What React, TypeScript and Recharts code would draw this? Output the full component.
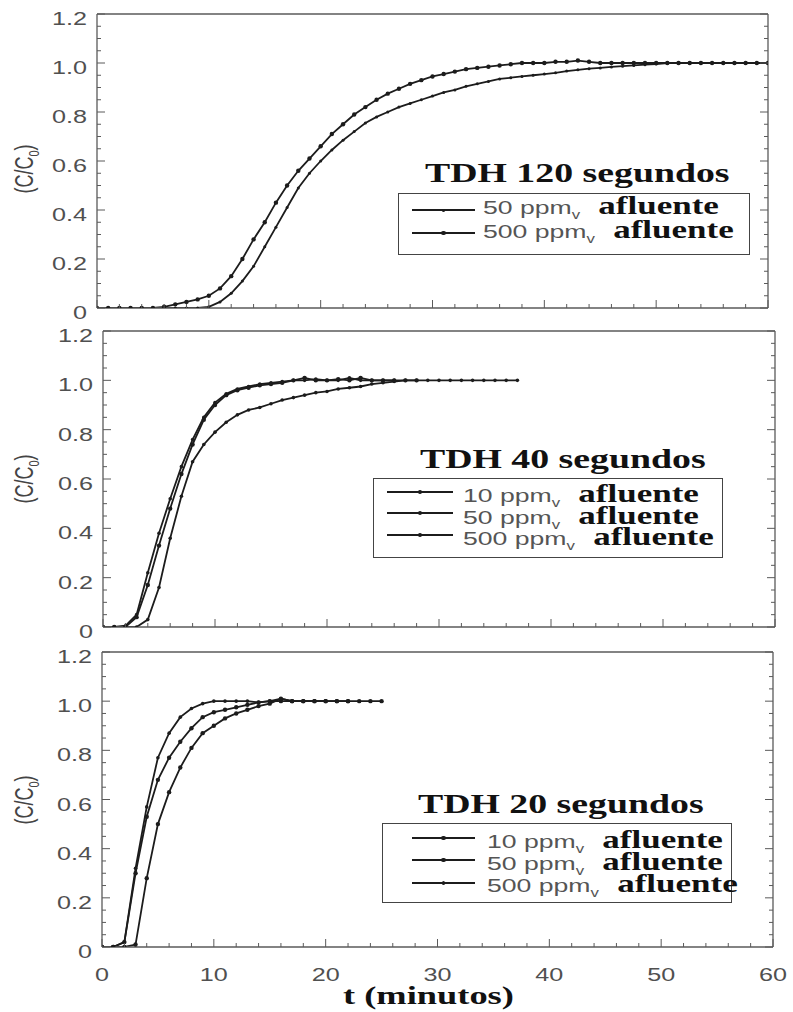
import React from 'react';
import { LineChart, Line, XAxis, YAxis } from 'recharts';

// one reading per minute
const MINUTES = [
  0, 1, 2, 3, 4, 5, 6, 7, 8, 9, 10, 11, 12, 13, 14, 15, 16, 17, 18, 19, 20,
  21, 22, 23, 24, 25, 26, 27, 28, 29, 30, 31, 32, 33, 34, 35, 36, 37, 38, 39, 40,
  41, 42, 43, 44, 45, 46, 47, 48, 49, 50, 51, 52, 53, 54, 55, 56, 57, 58, 59, 60,
];

// TDH 120 s
const P1_500 = [
  0, 0, 0, 0, 0, 0, 0.005, 0.015, 0.025, 0.035, 0.05, 0.08, 0.13, 0.2, 0.28, 0.35,
  0.43, 0.5, 0.56, 0.61, 0.66, 0.71, 0.75, 0.79, 0.82, 0.85, 0.875, 0.895, 0.915,
  0.93, 0.945, 0.955, 0.965, 0.975, 0.98, 0.985, 0.99, 0.995, 1.0, 1.0, 1.0, 1.005,
  1.005, 1.01, 1.005, 1.0, 1, 1, 1, 1, 1, 1, 1, 1, 1, 1, 1, 1, 1, 1, 1,
];
const P1_50 = [
  0, 0, 0, 0, 0, 0, 0, 0, 0, 0, 0.005, 0.025, 0.06, 0.11, 0.17, 0.25, 0.33, 0.41,
  0.49, 0.55, 0.6, 0.645, 0.685, 0.72, 0.755, 0.78, 0.8, 0.82, 0.835, 0.85, 0.865,
  0.88, 0.89, 0.905, 0.915, 0.925, 0.935, 0.94, 0.945, 0.95, 0.955, 0.96, 0.967,
  0.972, 0.977, 0.98, 0.984, 0.987, 0.99, 0.993, 0.996, 1, 1, 1, 1, 1, 1, 1, 1, 1, 1,
];

// TDH 40 s
const P2_500 = [
  0, 0, 0.005, 0.05, 0.22, 0.38, 0.52, 0.65, 0.76, 0.85, 0.91, 0.945, 0.965, 0.975,
  0.985, 0.99, 0.995, 1.0, 1.0, 1.005, 1.0, 1.0, 1.01, 1.0, 1.0, 1.0, 1.0,
];
const P2_50 = [
  0, 0, 0, 0.04, 0.17, 0.33, 0.48, 0.62, 0.74, 0.84, 0.9, 0.94, 0.96, 0.97, 0.98,
  0.985, 0.99, 1.0, 1.01, 1.0, 1.0, 1.005, 1.0, 1.01, 1.0, 1.0, 1.0, 1.0, 1.0,
];
const P2_10 = [
  0, 0, 0, 0, 0.03, 0.16, 0.36, 0.53, 0.67, 0.74, 0.79, 0.83, 0.86, 0.88, 0.89,
  0.905, 0.92, 0.93, 0.94, 0.95, 0.955, 0.965, 0.97, 0.975, 0.985, 0.99, 0.995,
  1, 1, 1, 1, 1, 1, 1, 1, 1, 1, 1,
];

// TDH 20 s
const P3_500 = [
  0, 0, 0.02, 0.32, 0.57, 0.77, 0.87, 0.935, 0.97, 0.99, 1.0, 1.0, 1.0, 1.0, 0.995,
  1.0, 1.01, 1.0, 1.0, 1.0, 1.0,
];
const P3_50 = [
  0, 0, 0.02, 0.3, 0.53, 0.68, 0.77, 0.835, 0.89, 0.935, 0.955, 0.965, 0.975, 0.985,
  0.995, 1.0, 1.0, 1.0, 1.0, 1.0, 1.0, 1.0, 1.0,
];
const P3_10 = [
  0, 0, 0, 0.01, 0.28, 0.5, 0.63, 0.73, 0.81, 0.87, 0.9, 0.93, 0.95, 0.965, 0.98,
  0.99, 1.01, 1.0, 1.0, 1.0, 1.0, 1.0, 1.0, 1.0, 1.0, 1.0,
];

// major + minor tick positions
const X_TICKS = [
  0, 2, 4, 6, 8, 10, 12, 14, 16, 18, 20, 22, 24, 26, 28, 30, 32, 34, 36, 38, 40,
  42, 44, 46, 48, 50, 52, 54, 56, 58, 60,
];
const Y_TICKS = [
  0, 0.05, 0.1, 0.15, 0.2, 0.25, 0.3, 0.35, 0.4, 0.45, 0.5, 0.55, 0.6, 0.65, 0.7,
  0.75, 0.8, 0.85, 0.9, 0.95, 1.0, 1.05, 1.1, 1.15, 1.2,
];

const INK = '#1c1c1c';
const FRAME = '#5a5a5a';
const LABEL = '#505050';
const STRETCH = 1.4;

const isMajorX = (v: number) => Math.abs(v / 10 - Math.round(v / 10)) < 1e-6;
const isMajorY = (v: number) => Math.abs(v * 5 - Math.round(v * 5)) < 1e-6;
const yText = (v: number) => (v === 0 ? '0' : v.toFixed(1));

const BottomTick = (props: any) => {
  const { x, y, payload, showLabel } = props;
  const major = isMajorX(payload.value);
  return (
    <g>
      <line x1={x} y1={y} x2={x} y2={y - (major ? 8 : 4)} stroke={FRAME} strokeWidth={1} />
      {showLabel && major && (
        <text
          transform={`translate(${x},${y + 34}) scale(${STRETCH},1)`}
          textAnchor="middle"
          fontFamily="Liberation Sans, Arial, sans-serif"
          fontSize={18}
          fill={LABEL}
        >
          {payload.value}
        </text>
      )}
    </g>
  );
};

const TopTick = (props: any) => {
  const { x, y, payload } = props;
  const major = isMajorX(payload.value);
  return <line x1={x} y1={y} x2={x} y2={y + (major ? 8 : 4)} stroke={FRAME} strokeWidth={1} />;
};

const LeftTick = (props: any) => {
  const { x, y, payload } = props;
  const major = isMajorY(payload.value);
  return (
    <g>
      <line x1={x} y1={y} x2={x + (major ? 8 : 4)} y2={y} stroke={FRAME} strokeWidth={1} />
      {major && (
        <text
          transform={`translate(${x - 10},${y + 11}) scale(${STRETCH},1)`}
          textAnchor="end"
          fontFamily="Liberation Sans, Arial, sans-serif"
          fontSize={18}
          fill={LABEL}
        >
          {yText(payload.value)}
        </text>
      )}
    </g>
  );
};

const RightTick = (props: any) => {
  const { x, y, payload } = props;
  const major = isMajorY(payload.value);
  return <line x1={x} y1={y} x2={x - (major ? 8 : 4)} y2={y} stroke={FRAME} strokeWidth={1} />;
};

interface Box { l: number; t: number; r: number; b: number }
interface SeriesDef { name: string; values: number[]; r: number }

const Panel = ({ box, series, showX }: { box: Box; series: SeriesDef[]; showX: boolean }) => {
  const bottomH = showX ? 65 : 14;
  const top = box.t - 14;
  const h = box.b - box.t + 14 + bottomH;
  const frameLine = { stroke: FRAME, strokeWidth: 1.3 };
  return (
    <div style={{ position: 'absolute', left: 0, top }}>
      <LineChart
        width={793}
        height={h}
        margin={{ top: 14, right: 793 - box.r, bottom: 0, left: box.l - 60 }}
      >
        <XAxis
          xAxisId="x"
          dataKey="t"
          type="number"
          domain={[0, 60]}
          allowDataOverflow
          ticks={X_TICKS}
          interval={0}
          tickSize={0}
          tickMargin={0}
          height={bottomH}
          axisLine={frameLine}
          tickLine={false}
          tick={(p: any) => <BottomTick {...p} showLabel={showX} />}
        />
        <XAxis
          xAxisId="xt"
          orientation="top"
          mirror
          type="number"
          domain={[0, 60]}
          allowDataOverflow
          ticks={X_TICKS}
          interval={0}
          tickSize={0}
          tickMargin={0}
          axisLine={frameLine}
          tickLine={false}
          tick={TopTick}
        />
        <YAxis
          yAxisId="y"
          type="number"
          domain={[0, 1.2]}
          allowDataOverflow
          ticks={Y_TICKS}
          interval={0}
          width={60}
          tickSize={0}
          tickMargin={0}
          axisLine={frameLine}
          tickLine={false}
          tick={LeftTick}
        />
        <YAxis
          yAxisId="yr"
          orientation="right"
          mirror
          type="number"
          domain={[0, 1.2]}
          allowDataOverflow
          ticks={Y_TICKS}
          interval={0}
          tickSize={0}
          tickMargin={0}
          axisLine={frameLine}
          tickLine={false}
          tick={RightTick}
        />
        {series.map((s) => (
          <Line
            key={s.name}
            name={s.name}
            xAxisId="x"
            yAxisId="y"
            data={s.values.map((v, i) => ({ t: MINUTES[i], v }))}
            dataKey="v"
            type="linear"
            stroke={INK}
            strokeWidth={1.8}
            dot={{ r: s.r, fill: INK, stroke: INK, strokeWidth: 0 }}
            activeDot={false}
            isAnimationActive={false}
          />
        ))}
      </LineChart>
    </div>
  );
};

const serifBold: React.CSSProperties = {
  fontFamily: '"Liberation Serif", "Times New Roman", serif',
  fontWeight: 'bold',
  color: '#111',
};
const sans: React.CSSProperties = {
  fontFamily: '"Liberation Sans", Arial, sans-serif',
  color: '#555',
};

// text whose baseline sits at `base`, stretched horizontally like the scan
const Stretched = ({ x, base, size, style, children }: any) => (
  <div
    style={{
      position: 'absolute',
      left: x,
      top: base - 24,
      height: 30,
      lineHeight: '30px',
      fontSize: size,
      whiteSpace: 'nowrap',
      transform: `scaleX(${STRETCH})`,
      transformOrigin: '0 50%',
      ...style,
    }}
  >
    {children}
  </div>
);

interface LegendRow { label: string; line: number; base: number; r: number }
interface LegendDef {
  title: string; titleX: number; titleBase: number;
  box: Box; lineX: [number, number]; textX: number; rows: LegendRow[];
}

const LegendBlock = ({ d }: { d: LegendDef }) => (
  <>
    <Stretched x={d.titleX} base={d.titleBase} size={27} style={serifBold}>
      {d.title}
    </Stretched>
    <div
      style={{
        position: 'absolute',
        left: d.box.l,
        top: d.box.t,
        width: d.box.r - d.box.l,
        height: d.box.b - d.box.t,
        border: '1.4px solid #444',
        boxSizing: 'border-box',
      }}
    />
    {d.rows.map((row) => (
      <React.Fragment key={row.label}>
        <div
          style={{
            position: 'absolute',
            left: d.lineX[0],
            top: row.line - 0.8,
            width: d.lineX[1] - d.lineX[0],
            height: 1.6,
            background: INK,
          }}
        />
        <div
          style={{
            position: 'absolute',
            left: (d.lineX[0] + d.lineX[1]) / 2 - row.r,
            top: row.line - row.r,
            width: row.r * 2,
            height: row.r * 2,
            borderRadius: '50%',
            background: INK,
          }}
        />
        <Stretched x={d.textX} base={row.base} size={25} style={serifBold}>
          <span style={{ ...sans, fontWeight: 'normal', fontSize: 19 }}>
            {row.label} ppm
            <span style={{ fontSize: 12, verticalAlign: 'sub' }}>v</span>
          </span>
          <span style={{ marginLeft: 13 }}>afluente</span>
        </Stretched>
      </React.Fragment>
    ))}
  </>
);

const BOXES: Box[] = [
  { l: 97, t: 14, r: 768, b: 308 },
  { l: 103, t: 331, r: 775, b: 627 },
  { l: 102, t: 652, r: 773, b: 947 },
];

const SERIES: SeriesDef[][] = [
  [
    { name: '500 ppmv', values: P1_500, r: 2.2 },
    { name: '50 ppmv', values: P1_50, r: 1.5 },
  ],
  [
    { name: '500 ppmv', values: P2_500, r: 1.8 },
    { name: '50 ppmv', values: P2_50, r: 2.2 },
    { name: '10 ppmv', values: P2_10, r: 1.8 },
  ],
  [
    { name: '500 ppmv', values: P3_500, r: 1.8 },
    { name: '50 ppmv', values: P3_50, r: 2.2 },
    { name: '10 ppmv', values: P3_10, r: 2.2 },
  ],
];

const LEGENDS: LegendDef[] = [
  {
    title: 'TDH 120 segundos', titleX: 425, titleBase: 182,
    box: { l: 398, t: 193, r: 750, b: 255 }, lineX: [412, 475], textX: 483,
    rows: [
      { label: '50', line: 210, base: 215, r: 1.5 },
      { label: '500', line: 233, base: 239, r: 2.2 },
    ],
  },
  {
    title: 'TDH 40 segundos', titleX: 420, titleBase: 468,
    box: { l: 373, t: 478, r: 723, b: 558 }, lineX: [387, 453], textX: 463,
    rows: [
      { label: '10', line: 492, base: 503, r: 1.8 },
      { label: '50', line: 513, base: 525, r: 2.2 },
      { label: '500', line: 535, base: 546, r: 1.8 },
    ],
  },
  {
    title: 'TDH 20 segundos', titleX: 418, titleBase: 813,
    box: { l: 382, t: 823, r: 732, b: 903 }, lineX: [412, 475], textX: 487,
    rows: [
      { label: '10', line: 838, base: 849, r: 2.2 },
      { label: '50', line: 860, base: 871, r: 2.2 },
      { label: '500', line: 883, base: 893, r: 1.8 },
    ],
  },
];

const YLabel = ({ cy }: { cy: number }) => (
  <div
    style={{
      position: 'absolute',
      left: 26,
      top: cy,
      fontSize: 18,
      whiteSpace: 'nowrap',
      transform: `translate(-50%, -50%) rotate(-90deg) scaleY(${STRETCH})`,
      ...sans,
      color: '#444',
    }}
  >
    (C/C<span style={{ fontSize: 11, verticalAlign: 'sub' }}>0</span>)
  </div>
);

export default function App() {
  return (
    <div
      style={{
        position: 'absolute',
        left: 0,
        top: 0,
        width: 793,
        height: 1012,
        background: '#fff',
        overflow: 'hidden',
      }}
    >
      {BOXES.map((box, i) => (
        <Panel key={i} box={box} series={SERIES[i]} showX={i === 2} />
      ))}
      {BOXES.map((box, i) => (
        <YLabel key={i} cy={(box.t + box.b) / 2 + (i === 0 ? 8 : 0)} />
      ))}
      {LEGENDS.map((d, i) => (
        <LegendBlock key={i} d={d} />
      ))}
      <Stretched x={343} base={1005} size={26} style={serifBold}>
        t (minutos)
      </Stretched>
    </div>
  );
}
